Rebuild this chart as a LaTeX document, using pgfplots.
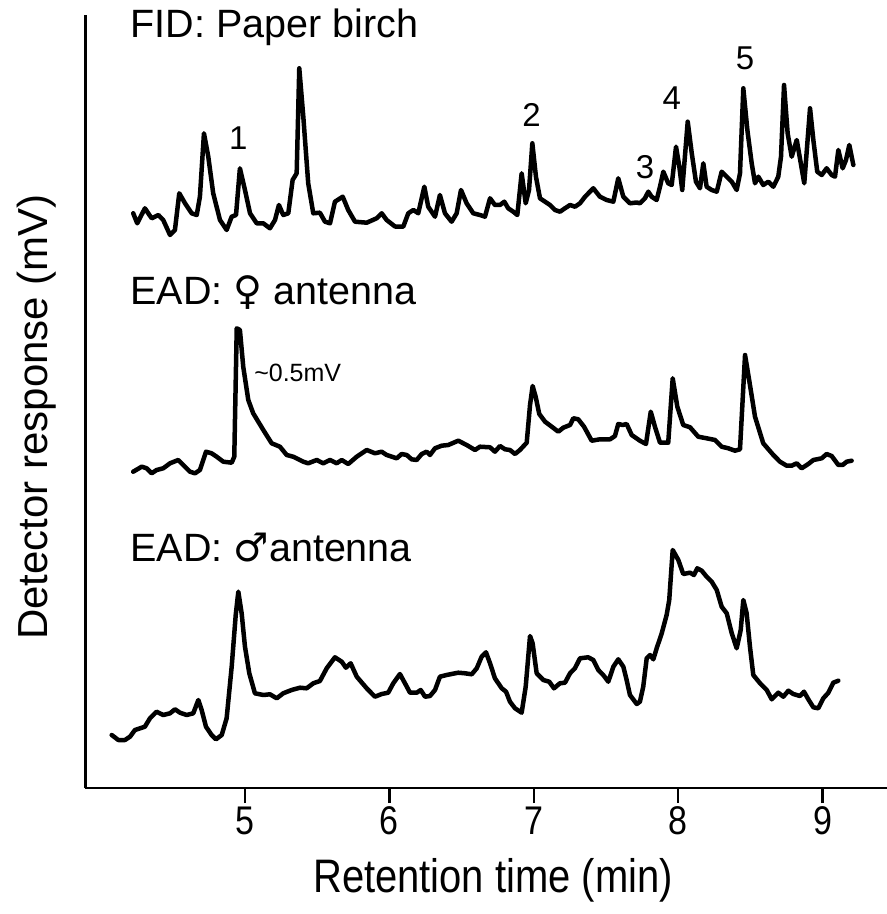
\documentclass[border=0pt]{standalone}
\usepackage{fontspec}
\setmainfont{Liberation Sans}
\newfontfamily\narrow{Liberation Sans}[FakeStretch=0.85]
\newfontfamily\sym{DejaVu Sans}
\usepackage{pgfplots}
\pgfplotsset{compat=1.18}
\pgfplotsset{trace/.style={black, line width=4.5pt, line join=round, line cap=round, mark=none}}
\begin{document}
\begin{tikzpicture}
\useasboundingbox (0,0) rectangle (887pt,914pt);
\begin{axis}[
  at={(85.4pt,126pt)}, anchor=south west,
  scale only axis, width=801.6pt, height=773pt,
  xmin=3.895, xmax=9.446, ymin=126, ymax=899,
  axis x line*=bottom, axis y line*=left,
  axis line style={line width=2.8pt, -},
  xtick={5,6,7,8,9}, xticklabels={5,6,7,8,9},
  ytick=\empty,
  xtick align=outside, major tick length=15pt,
  tick style={line width=2.5pt, black},
  xticklabel style={font=\narrow\fontsize{40}{40}\selectfont, yshift=0pt},
  xlabel={Retention time (min)},
  ylabel={Detector response (mV)},
  xlabel style={font=\narrow\fontsize{47}{47}\selectfont, at={(axis description cs:0.5085,-0.119)}, anchor=center},
  ylabel style={font=\fontsize{42}{42}\selectfont, at={(axis description cs:-0.0604,0.48)}, anchor=center},
  clip=false,
]
% FID: Paper birch
\addplot[trace] coordinates {
(4.226,700.7)(4.254,690.7)(4.307,705.7)(4.354,695.7)(4.400,699)(4.434,694)(4.481,679)(4.515,684)
(4.545,720.7)(4.585,710.7)(4.631,700.7)(4.666,699)(4.688,717.3)(4.716,780.7)(4.746,757.3)(4.780,720.7)
(4.827,694)(4.873,684)(4.908,697.3)(4.938,699)(4.965,745.7)(5.000,724)(5.035,700.7)(5.081,690.7)
(5.127,690.7)(5.173,685.7)(5.208,694)(5.235,709)(5.265,699)(5.300,700.7)(5.330,734)(5.358,740.7)
(5.376,845.7)(5.404,797.3)(5.438,730.7)(5.473,700.7)(5.519,701.3)(5.554,692.3)(5.589,690.7)(5.623,712.3)
(5.677,717.3)(5.715,704)(5.762,692.3)(5.843,691.3)(5.912,695.7)(5.947,700.7)(5.981,694)(6.039,687.5)
(6.096,687.3)(6.131,700.7)(6.166,704)(6.200,700.7)(6.242,727.3)(6.269,707.3)(6.316,697.3)(6.350,719)
(6.385,700.7)(6.431,692.3)(6.466,700.7)(6.496,724)(6.535,710.7)(6.581,700.7)(6.627,699)(6.662,697.3)
(6.697,715.7)(6.731,709)(6.766,709)(6.796,712.3)(6.823,705.7)(6.858,702.3)(6.886,699)(6.916,740.7)
(6.944,710.7)(6.967,724)(6.990,770.7)(7.015,737.3)(7.043,715.7)(7.078,712.3)(7.112,709)(7.147,704)
(7.181,702.3)(7.216,705.7)(7.251,709)(7.285,707.3)(7.320,710.7)(7.355,717.3)(7.412,725.7)(7.458,717.3)
(7.505,714)(7.551,712.3)(7.585,735.7)(7.620,717.3)(7.666,710.7)(7.713,711.5)(7.735,710.7)(7.770,715.7)
(7.793,722.3)(7.816,717.3)(7.851,714)(7.874,727.3)(7.897,742.3)(7.931,730.7)(7.955,729)(7.985,767.3)
(8.008,747.3)(8.028,724)(8.066,792.3)(8.094,760.7)(8.123,732.3)(8.151,725.7)(8.174,750.7)(8.197,727.3)
(8.232,724)(8.267,722.3)(8.301,742.3)(8.336,737.3)(8.371,732.3)(8.405,724)(8.428,740.7)(8.451,825.7)
(8.479,784)(8.509,750.7)(8.532,730.7)(8.555,737.3)(8.589,729)(8.624,732.3)(8.659,727.3)(8.693,737.3)
(8.712,757.3)(8.733,829)(8.758,780.7)(8.786,757.3)(8.821,774)(8.843,755.7)(8.873,730.7)(8.913,805.7)
(8.936,774)(8.963,742.3)(8.994,739)(9.028,745.7)(9.063,739)(9.086,737.3)(9.109,764)(9.139,745.7)
(9.162,754)(9.185,769)(9.213,749)
};
% EAD: female antenna
\addplot[trace] coordinates {
(4.226,442.3)(4.285,447.3)(4.319,445.7)(4.354,440.7)(4.388,444)(4.434,445.7)(4.481,450.7)(4.538,454)
(4.573,449)(4.619,442.3)(4.654,440.7)(4.688,444)(4.730,462.3)(4.769,460.7)(4.804,457.3)(4.850,452.3)
(4.908,451.3)(4.926,457.3)(4.943,585.7)(4.965,584)(4.988,547.3)(5.023,514)(5.057,500.7)(5.127,484)
(5.185,470.7)(5.242,467.3)(5.289,459)(5.334,457.3)(5.404,452.3)(5.438,450.7)(5.497,454)(5.542,450.7)
(5.589,454)(5.635,450.7)(5.670,454)(5.715,450)(5.774,457.3)(5.843,464)(5.900,460.7)(5.947,462.3)
(5.981,459)(6.051,455.7)(6.085,460)(6.120,459)(6.154,454.7)(6.189,454)(6.224,460)(6.258,462.3)
(6.281,459)(6.316,465.7)(6.362,468.3)(6.408,469)(6.477,473.3)(6.535,469)(6.593,464)(6.627,467.3)
(6.697,466.7)(6.731,462.3)(6.766,468)(6.801,464.7)(6.835,464)(6.870,460)(6.904,464)(6.951,471.3)
(6.974,509)(6.992,528)(7.013,517.3)(7.038,500)(7.078,492.3)(7.124,487.3)(7.170,482.3)(7.204,486.3)
(7.251,489)(7.274,495.7)(7.308,494.7)(7.348,487.3)(7.401,473.3)(7.458,474.7)(7.528,474.7)(7.562,478)
(7.585,490)(7.616,489)(7.643,490)(7.678,479)(7.735,473.3)(7.777,470)(7.810,502.3)(7.839,487.3)
(7.874,471.3)(7.931,471.3)(7.962,535.7)(7.994,507.3)(8.035,489)(8.082,486.7)(8.139,477.3)(8.197,475.7)
(8.255,474)(8.301,467.3)(8.347,465.7)(8.393,463.3)(8.428,464.7)(8.463,559)(8.497,529)(8.532,497.3)
(8.589,470.7)(8.659,459)(8.705,452.3)(8.751,448.3)(8.786,448.3)(8.821,450.7)(8.855,445.7)(8.901,450)
(8.936,454)(8.994,455.7)(9.028,460)(9.063,458)(9.109,449)(9.139,449)(9.167,452.3)(9.201,453.3)
};
% EAD: male antenna
\addplot[trace] coordinates {
(4.077,179)(4.123,174)(4.169,174)(4.204,177.3)(4.238,184)(4.273,185.7)(4.307,187.3)(4.342,195.7)
(4.388,202.3)(4.434,199)(4.481,200.7)(4.515,204.7)(4.550,201.3)(4.596,199)(4.642,200.7)(4.677,214)
(4.700,204)(4.730,187.3)(4.769,179)(4.799,174.7)(4.839,179)(4.873,195.7)(4.908,247.3)(4.936,299)
(4.954,322.3)(4.977,300.7)(5.000,267.3)(5.030,240.7)(5.069,220.7)(5.127,219)(5.173,219.7)(5.220,215.7)
(5.265,220.7)(5.323,224)(5.381,226.3)(5.427,225.7)(5.473,230.7)(5.519,233)(5.566,245.7)(5.623,256.7)
(5.670,252.3)(5.699,246.3)(5.732,250.7)(5.774,237.3)(5.843,225.7)(5.900,217.3)(5.947,220)(5.992,221.3)
(6.027,230.7)(6.073,240)(6.108,230.7)(6.143,221.3)(6.189,221.3)(6.217,224)(6.247,217.3)(6.281,218)
(6.316,224)(6.350,237.3)(6.397,239)(6.431,240)(6.477,241.3)(6.524,240.7)(6.570,239.7)(6.605,245.7)
(6.639,257.3)(6.669,261.7)(6.697,250.7)(6.731,235.7)(6.778,225.7)(6.808,222.3)(6.835,212.3)(6.870,205.7)
(6.916,201.3)(6.944,227.3)(6.974,278)(6.992,270.7)(7.020,240.7)(7.066,234)(7.107,232.3)(7.140,225.7)
(7.181,230.7)(7.216,231.3)(7.251,240.7)(7.285,245.7)(7.320,255.7)(7.377,256.7)(7.412,254)(7.447,244)
(7.481,239)(7.516,232.3)(7.551,247.3)(7.585,254.7)(7.620,247.3)(7.643,234)(7.666,219)(7.713,210)
(7.735,212.3)(7.758,227.3)(7.782,255.7)(7.805,259)(7.828,254.7)(7.851,265.7)(7.886,280.7)(7.920,299)
(7.938,314)(7.962,364)(8.001,354)(8.035,340)(8.082,341.3)(8.109,339)(8.132,345.7)(8.163,343.3)
(8.197,337.3)(8.232,332.3)(8.267,324)(8.301,307.3)(8.336,300.7)(8.371,280.7)(8.405,265.7)(8.433,284)
(8.451,314)(8.474,300.7)(8.497,267.3)(8.520,239)(8.567,230.7)(8.613,224)(8.648,214.7)(8.693,221.3)
(8.728,217.3)(8.763,223.3)(8.797,220)(8.843,218)(8.871,222.3)(8.901,214.7)(8.936,206.7)(8.970,205.7)
(9.005,215.7)(9.040,221.3)(9.074,231.3)(9.109,233.3)
};
% titles and annotations
\node[anchor=west, font=\fontsize{39.5}{39.5}\selectfont] at (axis cs:4.183,887) {FID: Paper birch};
\node[anchor=west, font=\fontsize{39.5}{39.5}\selectfont] at (axis cs:4.183,621) {EAD: {\sym ♀} antenna};
\node[anchor=west, font=\fontsize{39.5}{39.5}\selectfont] at (axis cs:4.183,366) {EAD: {\sym ♂}antenna};
\node[font=\fontsize{33}{33}\selectfont] at (axis cs:4.954,775.7) {1};
\node[font=\fontsize{33}{33}\selectfont] at (axis cs:6.985,799) {2};
\node[font=\fontsize{33}{33}\selectfont] at (axis cs:7.770,747.3) {3};
\node[font=\fontsize{33}{33}\selectfont] at (axis cs:7.955,815.7) {4};
\node[font=\fontsize{33}{33}\selectfont] at (axis cs:8.463,855.7) {5};
\node[anchor=west, font=\fontsize{25}{25}\selectfont] at (axis cs:5.040,541) {\textasciitilde 0.5mV};
\end{axis}
\end{tikzpicture}
\end{document}
